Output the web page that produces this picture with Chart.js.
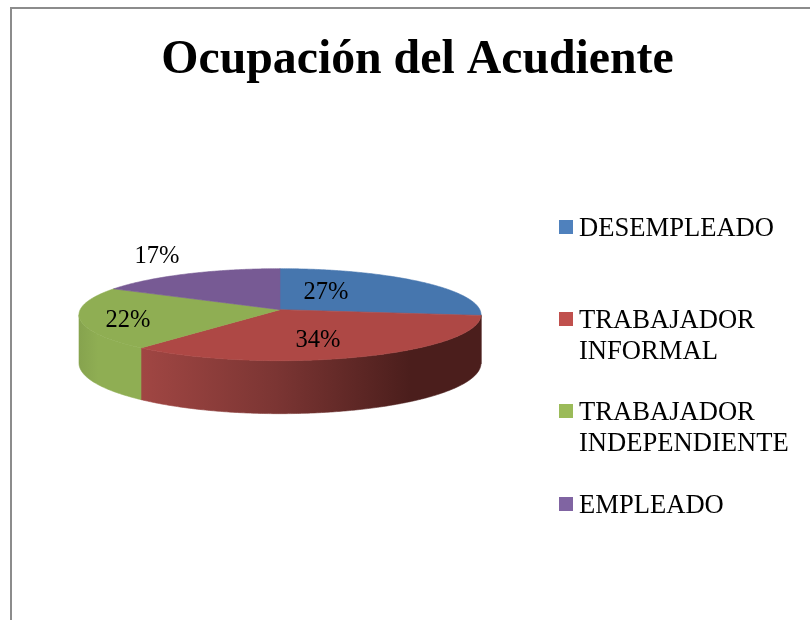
<!DOCTYPE html>
<html>
<head>
<meta charset="utf-8">
<title>Ocupación del Acudiente</title>
<style>
    html, body { margin: 0; padding: 0; background: #fff; overflow: hidden; }
    #marco { position: absolute; left: 10px; top: 7px; width: 900px; height: 800px; border: 2px solid #8c8c8c; }
    #grafico { position: absolute; left: 0; top: 0; }
</style>
<script src="https://cdn.jsdelivr.net/npm/chart.js@4"></script>
</head>
<body>
<div id="marco"></div>
<canvas id="grafico" width="810" height="620"></canvas>
<script>
const titulo = 'Ocupación del Acudiente';
const categorias = ['DESEMPLEADO', 'TRABAJADOR INFORMAL', 'TRABAJADOR INDEPENDIENTE', 'EMPLEADO'];
const valores = [27, 34, 22, 17];
const lineasLeyenda = [['DESEMPLEADO'], ['TRABAJADOR', 'INFORMAL'], ['TRABAJADOR', 'INDEPENDIENTE'], ['EMPLEADO']];
const coloresTapa = ['#4676ae', '#ae4845', '#8fae53', '#775a94'];
const coloresLeyenda = ['#4f81bd', '#c0504d', '#9bbb59', '#8064a2'];

// posicion de cada porcentaje respecto al centro de la torta
const desplazaEtiqueta = [[46, -17], [38, 31], [-152, 11], [-123, -53]];
// y de cada fila de la leyenda (linea base del primer renglon)
const baseLeyenda = [236, 328, 420, 513];

const fuente = '"Liberation Serif", serif';

// perspectiva: el borde de atras se ve mas cerca del centro que el de adelante
const persp = 0.1087;
const altoTapa = 45.46, altoBase = 49.9, grosor = 48;
const bordeVisible = Math.asin(persp);

function proyecta(p, t, alto, bajar) {
    const u = Math.cos(t), v = Math.sin(t);
    const d = 1 - persp * v;
    const r = p.outerRadius * Math.sqrt(1 - persp * persp);
    return [p.x + r * u / d, p.y + bajar + alto * v / d];
}

function recorre(ctx, p, a, b, alto, bajar) {
    const pasos = Math.max(2, Math.ceil(Math.abs(b - a) / 0.01));
    for (let k = 0; k <= pasos; k++) {
        const q = proyecta(p, a + (b - a) * k / pasos, alto, bajar);
        ctx.lineTo(q[0], q[1]);
    }
}

function rellenoPared(ctx, p, i) {
    if (i === 0 || i === 1) {
        const g = ctx.createLinearGradient(p.x - 137, 0, p.x + 130, 0);
        g.addColorStop(0, '#a04643');
        g.addColorStop(0.5, '#7b3533');
        g.addColorStop(1, '#4b1e1c');
        return g;
    }
    const g = ctx.createLinearGradient(p.x - p.outerRadius, 0, p.x - 137, 0);
    g.addColorStop(0, '#86a34e');
    g.addColorStop(0.3, '#8fae53');
    g.addColorStop(1, '#8fae53');
    return g;
}

function paredes(ctx, arcos) {
    arcos.forEach(function(arco, i) {
        const p = arco.getProps(['x', 'y', 'startAngle', 'endAngle', 'outerRadius'], true);
        // solo se ve la parte de adelante
        const a = Math.max(p.startAngle, bordeVisible);
        const b = Math.min(p.endAngle, Math.PI - bordeVisible);
        if (b <= a) return;
        const relleno = rellenoPared(ctx, p, i);
        ctx.beginPath();
        recorre(ctx, p, a, b, altoTapa, 0);
        recorre(ctx, p, b, a, altoBase, grosor);
        ctx.closePath();
        ctx.fillStyle = relleno;
        ctx.strokeStyle = relleno;
        ctx.lineWidth = 0.6;
        ctx.fill();
        ctx.stroke();
    });
}

function tapa(ctx, arcos) {
    arcos.forEach(function(arco) {
        const p = arco.getProps(['x', 'y', 'startAngle', 'endAngle', 'outerRadius'], true);
        ctx.beginPath();
        ctx.moveTo(p.x, p.y);
        recorre(ctx, p, p.startAngle, p.endAngle, altoTapa, 0);
        ctx.closePath();
        ctx.fillStyle = arco.options.backgroundColor;
        ctx.strokeStyle = arco.options.backgroundColor;
        ctx.lineWidth = 0.6;
        ctx.fill();
        ctx.stroke();
    });
}

const torta3d = {
    id: 'torta3d',
    afterLayout(chart) {
        // el titulo va centrado sobre el area del marco
        chart.titleBlock.left = 25;
        chart.titleBlock.right = 810;
    },
    beforeDatasetDraw(chart, args) {
        const arcos = args.meta.data;
        const cx = arcos[0].x, cy = arcos[0].y;
        const ctx = chart.ctx;
        paredes(ctx, arcos);
        tapa(ctx, arcos);

        ctx.save();
        ctx.fillStyle = '#000';
        ctx.font = '24.5px ' + fuente;
        ctx.textAlign = 'center';
        ctx.textBaseline = 'middle';
        valores.forEach(function(v, i) {
            ctx.fillText(v + '%', cx + desplazaEtiqueta[i][0], cy + desplazaEtiqueta[i][1]);
        });
        ctx.restore();
        return false;
    },
    afterDraw(chart) {
        const ctx = chart.ctx;
        ctx.save();
        ctx.font = '26.6px ' + fuente;
        ctx.textAlign = 'left';
        ctx.textBaseline = 'alphabetic';
        lineasLeyenda.forEach(function(lineas, i) {
            const y = baseLeyenda[i];
            ctx.fillStyle = coloresLeyenda[i];
            ctx.fillRect(559, y - 16, 14, 14);
            ctx.fillStyle = '#000';
            lineas.forEach(function(t, j) {
                ctx.fillText(t, 579, y + j * 31);
            });
        });
        ctx.restore();
    }
};

new Chart(document.getElementById('grafico'), {
    type: 'pie',
    data: {
        labels: categorias,
        datasets: [{
            data: valores,
            backgroundColor: coloresTapa,
            borderWidth: 0
        }]
    },
    options: {
        responsive: false,
        animation: false,
        events: [],
        layout: { padding: { left: 79, right: 329, top: 0, bottom: 90 } },
        plugins: {
            legend: { display: false },
            tooltip: { enabled: false },
            title: {
                display: true,
                text: titulo,
                color: '#000',
                font: { family: fuente, size: 47.8, weight: 'bold' },
                padding: { top: 32, bottom: 0 }
            }
        }
    },
    plugins: [torta3d]
});
</script>
</body>
</html>
